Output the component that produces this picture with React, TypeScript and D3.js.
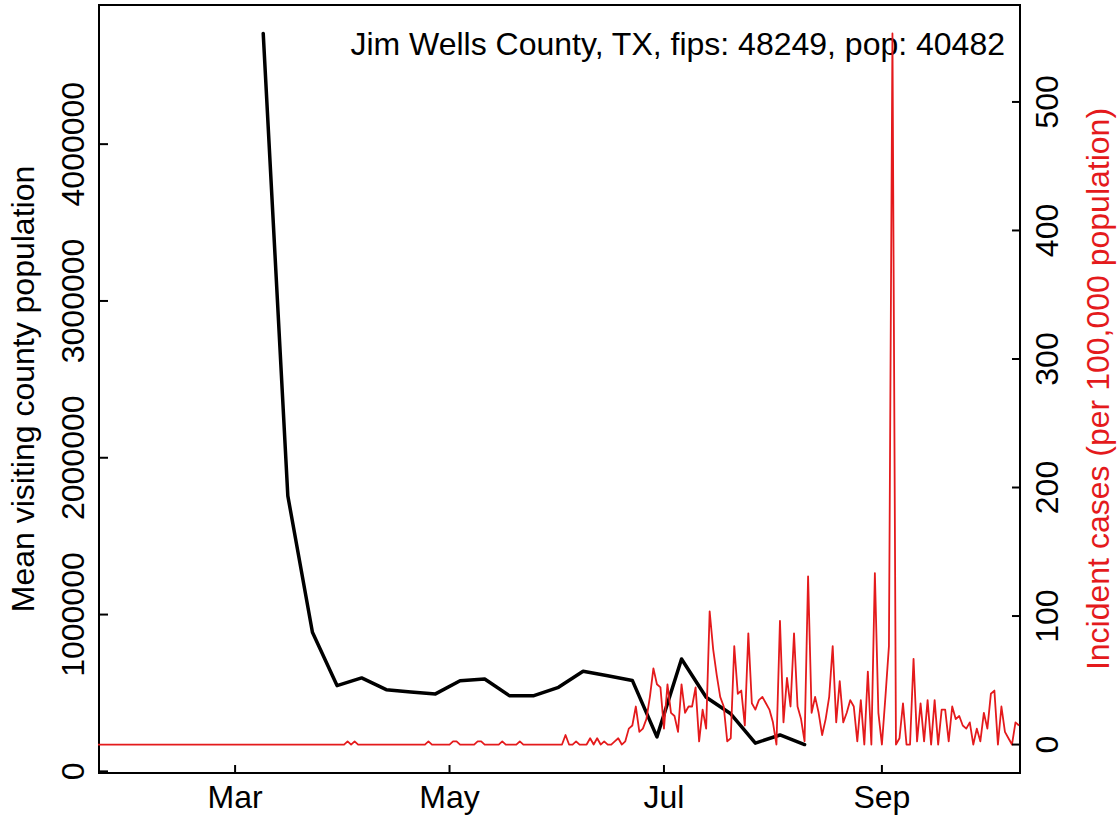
import React from "react";
import * as d3 from "d3";

// ---- Data ----
// Weekly mean visiting county population (black line), Mondays from 2020-03-09
const visitStart = new Date(2020, 2, 9);
const visitValues = [
  4706000, 1757000, 887000, 547000, 596000, 521000, 506000, 494000,
  578000, 589000, 483000, 483000, 536000, 638000, 610000, 580000,
  220000, 717000, 473000, 367000, 180000, 232000, 171000,
];

// Daily incident cases per 100,000 population (red line), from 2020-01-22
const caseStart = new Date(2020, 0, 22);
const casesJanFeb = [
  0, 0, 0, 0, 0, 0, 0, 0, 0, 0, 0, 0, 0, 0, 0, 0, 0, 0, 0, 0,
  0, 0, 0, 0, 0, 0, 0, 0, 0, 0, 0, 0, 0, 0, 0, 0, 0, 0, 0,
];
const casesMar = [
  0, 0, 0, 0, 0, 0, 0, 0, 0, 0, 0, 0, 0, 0, 0, 0, 0, 0, 0, 0,
  0, 0, 0, 0, 0, 0, 0, 0, 0, 0, 0,
];
const casesApr = [
  0, 2.5, 0, 2.5, 0, 0, 0, 0, 0, 0, 0, 0, 0, 0, 0, 0, 0, 0, 0, 0,
  0, 0, 0, 0, 2.5, 0, 0, 0, 0, 0,
];
const casesMay = [
  0, 2.5, 2.5, 0, 0, 0, 0, 0, 2.5, 2.5, 0, 0, 0, 0, 0, 2.5, 0, 0, 0, 0,
  2.5, 0, 0, 0, 0, 0, 0, 0, 0, 0, 0,
];
const casesJun = [
  0, 0, 7.4, 0, 0, 2.5, 0, 0, 0, 4.9, 0, 4.9, 0, 2.5, 0, 0, 2.5, 4.9, 0, 2.5,
  12.4, 14.8, 29.6, 9.9, 12.4, 19.8, 37.1, 59.3, 46.9, 44.5,
];
const casesJul = [
  12.4, 46.9, 24.7, 22.2, 9.9, 46.9, 24.7, 29.6, 29.6, 44.5, 2.5, 27.2, 12.4, 103.7, 74.1, 54.3,
  37.1, 29.6, 2.5, 4.9, 76.6, 39.5, 42.0, 14.8, 86.5, 32.1, 27.2, 34.6, 37.1, 32.1, 27.2,
];
const casesAug = [
  17.3, 0, 96.3, 17.3, 51.9, 29.6, 86.5, 29.6, 19.8, 2.5, 130.9, 24.7, 37.1, 24.7, 7.4, 19.8,
  37.1, 76.6, 17.3, 49.4, 17.3, 24.7, 34.6, 29.6, 2.5, 34.6, 0, 56.8, 0, 133.4, 24.7,
];
const casesSep = [
  0, 37.1, 76.6, 553.3, 0, 4.9, 32.1, 0, 0, 66.7, 2.5, 32.1, 2.5, 34.6, 0, 34.6,
  0, 27.2, 27.2, 2.5, 29.6, 19.8, 22.2, 14.8, 12.4, 17.3, 0, 12.4, 2.5, 24.7,
];
const casesOct = [12.4, 39.5, 42.0, 0, 29.6, 9.9, 4.9, 0, 17.3, 14.8];

const leftTicks = [0, 1000000, 2000000, 3000000, 4000000];
const rightTicks = [0, 100, 200, 300, 400, 500];
const monthTicks = [new Date(2020, 2, 1), new Date(2020, 4, 1), new Date(2020, 6, 1), new Date(2020, 8, 1)];
const monthLabels = ["Mar", "May", "Jul", "Sep"];
const xDomain = [new Date(2020, 0, 22), new Date(2020, 9, 10)];

const titleText = "Jim Wells County, TX, fips: 48249, pop: 40482";
const leftTitle = "Mean visiting county population";
const rightTitle = "Incident cases (per 100,000 population)";

// ---- Layout ----
const W = 1119;
const H = 822;
const L = 99;
const R = 1020;
const T = 5;
const B = 773;
const FONT = "'Liberation Sans', Arial, Helvetica, sans-serif";
const FS = 32;
const RED = "#e41a1c";

function padDomain(vals: number[]): [number, number] {
  const [lo, hi] = d3.extent(vals) as [number, number];
  const p = (hi - lo) * 0.04;
  return [lo - p, hi + p];
}

export default function App() {
  const visit = visitValues.map((v, i) => ({ date: d3.timeDay.offset(visitStart, i * 7), v }));
  const caseVals = [
    ...casesJanFeb, ...casesMar, ...casesApr, ...casesMay, ...casesJun,
    ...casesJul, ...casesAug, ...casesSep, ...casesOct,
  ];
  const cases = caseVals.map((v, i) => ({ date: d3.timeDay.offset(caseStart, i), v }));

  const x = d3.scaleTime().domain(xDomain).range([L - 1, R - 1]);
  const yL = d3.scaleLinear().domain(padDomain(visitValues)).range([B, T]);
  const yR = d3.scaleLinear().domain(padDomain(caseVals)).range([B, T]);

  const blackPath = d3
    .line<{ date: Date; v: number }>()
    .x((d) => x(d.date))
    .y((d) => yL(d.v))(visit) as string;
  const redPath = d3
    .line<{ date: Date; v: number }>()
    .x((d) => x(d.date))
    .y((d) => yR(d.v))(cases) as string;

  const midY = (T + B) / 2;

  return (
    <svg
      width={W}
      height={H}
      style={{ position: "absolute", left: 0, top: 0, background: "#fff" }}
      fontFamily={FONT}
      fontSize={FS}
    >
      <rect x={0} y={0} width={W} height={H} fill="#fff" />
      {/* black line */}
      <path d={blackPath} fill="none" stroke="#000" strokeWidth={3.5} strokeLinejoin="round" strokeLinecap="round" />

      {/* box */}
      <rect x={L} y={T} width={R - L} height={B - T} fill="none" stroke="#000" strokeWidth={2} />

      {/* left axis */}
      {leftTicks.map((t) => (
        <g key={"l" + t}>
          <line x1={L} x2={L + 9} y1={yL(t)} y2={yL(t)} stroke="#000" strokeWidth={2} />
          <text transform={`translate(84,${yL(t)}) rotate(-90)`} textAnchor="middle" fill="#000">
            {String(t)}
          </text>
        </g>
      ))}
      <text transform={`translate(34,${midY}) rotate(-90)`} textAnchor="middle" fill="#000">
        {leftTitle}
      </text>

      {/* bottom axis */}
      {monthTicks.map((t, i) => (
        <g key={"b" + i}>
          <line x1={x(t)} x2={x(t)} y1={B} y2={B - 8} stroke="#000" strokeWidth={2} />
          <text x={x(t)} y={808} textAnchor="middle" fill="#000">
            {monthLabels[i]}
          </text>
        </g>
      ))}

      {/* title legend */}
      <text x={1005} y={55} textAnchor="end" fill="#000">
        {titleText}
      </text>

      {/* red line */}
      <path d={redPath} fill="none" stroke={RED} strokeWidth={1.8} strokeLinejoin="round" />

      {/* right axis */}
      {rightTicks.map((t) => (
        <g key={"r" + t}>
          <line x1={R - 8} x2={R} y1={yR(t)} y2={yR(t)} stroke="#000" strokeWidth={2} />
          <text transform={`translate(1058,${yR(t)}) rotate(-90)`} textAnchor="middle" fill="#000">
            {String(t)}
          </text>
        </g>
      ))}
      <text transform={`translate(1109,${midY}) rotate(-90)`} textAnchor="middle" fill={RED}>
        {rightTitle}
      </text>
    </svg>
  );
}
